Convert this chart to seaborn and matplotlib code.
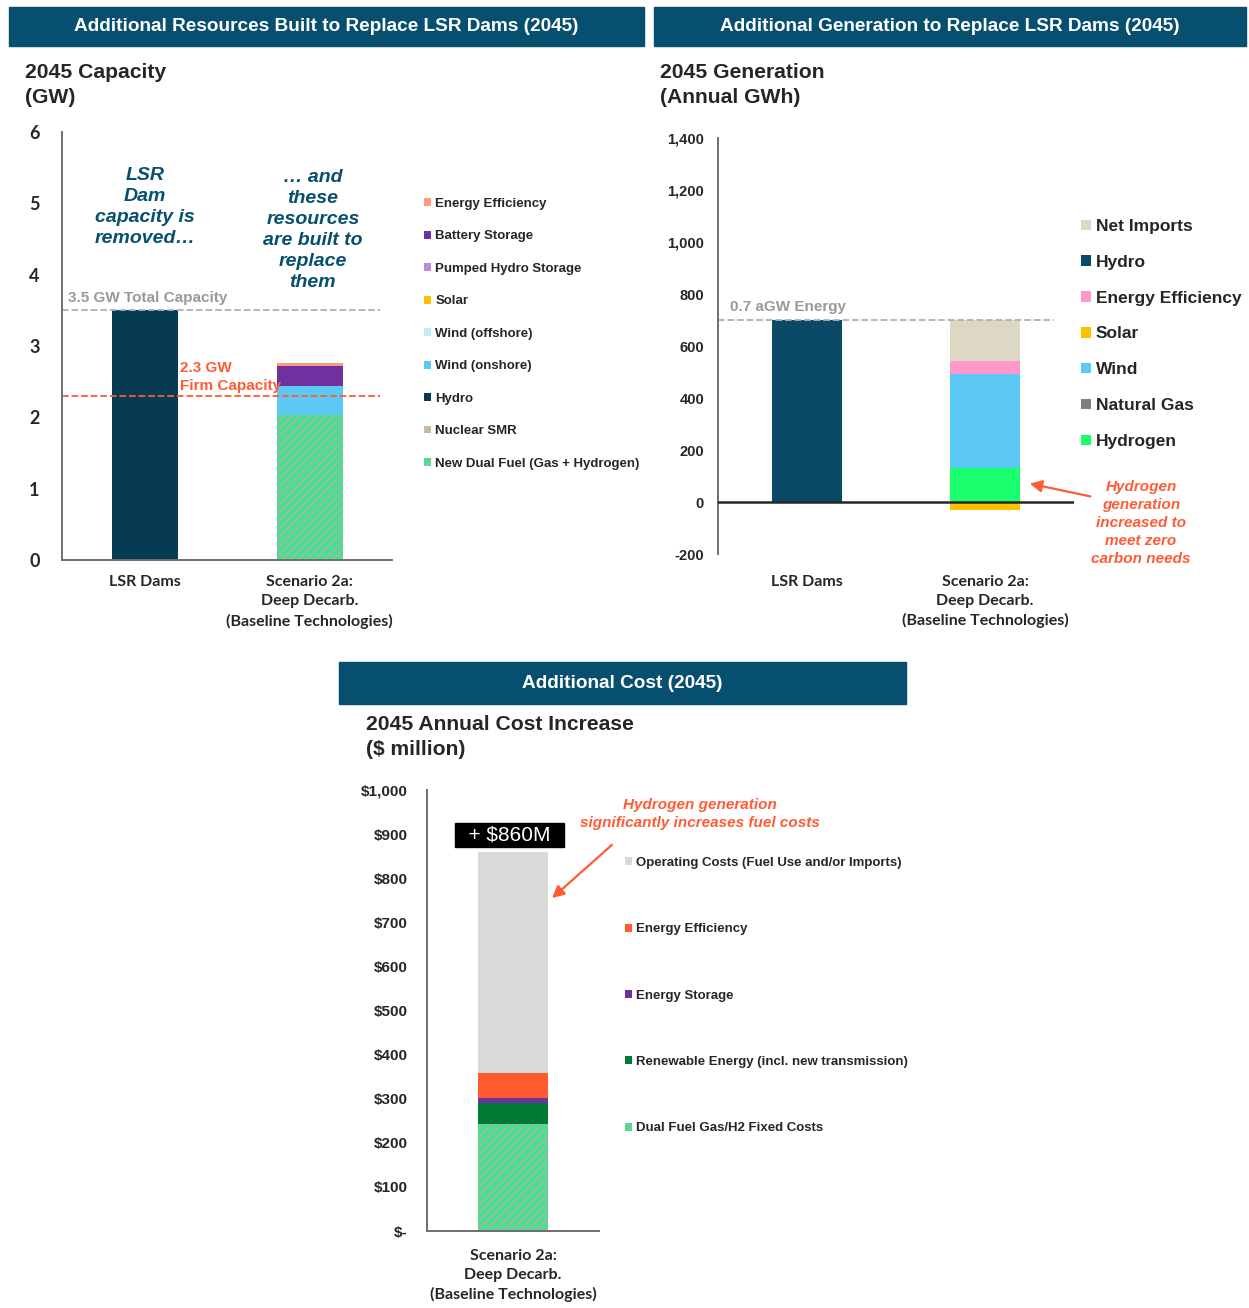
import matplotlib
matplotlib.use('Agg')
import matplotlib.pyplot as plt
from matplotlib.patches import Rectangle
import seaborn as sns
import numpy as np

W, H = 1249, 1308

# ---- capacity (GW) ----
cap_cats = ['LSR Dams', 'Scenario 2a']
cap_layers = ['New Dual Fuel (Gas + Hydrogen)', 'Nuclear SMR', 'Hydro', 'Wind (onshore)',
              'Wind (offshore)', 'Solar', 'Pumped Hydro Storage', 'Battery Storage', 'Energy Efficiency']
cap_values = [[0, 2.03], [0, 0], [3.5, 0], [0, 0.41], [0, 0], [0, 0], [0, 0], [0, 0.28], [0, 0.04]]
cap_colors = ['#3EE58C', '#C4BD97', '#073B53', '#5BC8F5', '#BDEBFB', '#FFC000', '#C08BDB', '#7030A0', '#FF9B7A']
cap_total = 3.5
cap_firm = 2.3

# ---- generation (annual GWh) ----
gen_cats = ['LSR Dams', 'Scenario 2a']
gen_layers = ['Hydrogen', 'Natural Gas', 'Wind', 'Solar', 'Energy Efficiency', 'Hydro', 'Net Imports']
gen_values = [[0, 131], [0, 0], [0, 361], [0, -30], [0, 50], [700, 0], [0, 158]]
gen_colors = ['#1AFF6E', '#7F7F7F', '#5BC8F5', '#FFC000', '#FF99CC', '#0B4A66', '#DDD8C4']
gen_energy = 700

# ---- cost ($ million) ----
cost_cats = ['Scenario 2a']
cost_layers = ['Dual Fuel Gas/H2 Fixed Costs', 'Renewable Energy (incl. new transmission)',
               'Energy Storage', 'Energy Efficiency', 'Operating Costs (Fuel Use and/or Imports)']
cost_values = [[243], [47], [12], [56], [502]]
cost_colors = ['#3EE58C', '#037A33', '#7030A0', '#FF5B2E', '#D9D9D9']

scen_label = 'Scenario 2a:\nDeep Decarb.\n(Baseline Technologies)'
teal = '#074F6F'
red = '#FF5B35'

sns.set_theme(style='white')
plt.rcParams['font.family'] = ['Liberation Sans', 'DejaVu Sans']
plt.rcParams['hatch.linewidth'] = 1.6

fig = plt.figure(figsize=(W / 100, H / 100), dpi=100)


def rect(x0, y0, x1, y1):
    return [x0 / W, 1 - y1 / H, (x1 - x0) / W, (y1 - y0) / H]


def ftext(x, y, s, **kw):
    fig.text(x / W, 1 - y / H, s, **kw)


def banner(x0, y0, x1, y1, s):
    fig.add_artist(Rectangle((x0 / W, 1 - y1 / H), (x1 - x0) / W, (y1 - y0) / H,
                             transform=fig.transFigure, color=teal, zorder=0))
    ftext((x0 + x1) / 2, (y0 + y1) / 2, s, ha='center', va='center', color='white',
          fontsize=13.7, fontweight='bold')


def stack(ax, cats, layers, values, colors, width):
    pos = np.zeros(len(cats))
    neg = np.zeros(len(cats))
    for name, vals, c in zip(layers, values, colors):
        vals = np.array(vals, dtype=float)
        bottom = np.where(vals >= 0, pos, neg)
        if 'Dual Fuel' in name:
            kw = dict(hatch='////', edgecolor='#9DB8A6', linewidth=0)
        else:
            kw = dict(linewidth=0)
        sns.barplot(x=cats, y=vals, bottom=bottom, color=c, width=width, label=name,
                    saturation=1, errorbar=None, ax=ax, **kw)
        pos = np.where(vals >= 0, pos + vals, pos)
        neg = np.where(vals < 0, neg + vals, neg)


def style_axes(ax, bottom=True):
    sns.despine(ax=ax, top=True, right=True, bottom=not bottom)
    for side in ['left', 'bottom']:
        ax.spines[side].set_color('#6E6E6E')
        ax.spines[side].set_linewidth(1.4)
    ax.tick_params(axis='both', length=0)
    ax.set_xlabel('')
    ax.set_ylabel('')


def xlabels(ax, labels):
    ax.set_xticklabels(labels, family='Lato', fontweight='bold', fontsize=11.5, linespacing=1.45)


def legend(ax, layers, x, y, fs, spacing):
    h, l = ax.get_legend_handles_labels()
    lookup = dict(zip(l, h))
    order = layers[::-1]
    ax.legend([lookup[n] for n in order], order, loc='upper left',
              bbox_to_anchor=(x / W, 1 - y / H), bbox_transform=fig.transFigure,
              frameon=False, borderpad=0, borderaxespad=0, handlelength=0.55,
              handleheight=0.55, handletextpad=0.3, labelspacing=spacing,
              prop={'family': 'Liberation Sans', 'weight': 'bold', 'size': fs})


# ================= panel 1: capacity =================
banner(9, 7, 644, 46, 'Additional Resources Built to Replace LSR Dams (2045)')
ftext(25, 85, '2045 Capacity\n(GW)', fontsize=15.2, fontweight='bold', va='center', linespacing=1.4)

ax1 = fig.add_axes(rect(62, 132, 392, 560))
stack(ax1, cap_cats, cap_layers, cap_values, cap_colors, 0.4)
ax1.set_xlim(-0.5, 1.5)
ax1.set_ylim(0, 6)
ax1.set_yticks(range(0, 7))
ax1.set_yticklabels([str(v) for v in range(0, 7)], family='Lato', fontweight='bold', fontsize=13)
ax1.set_xticks([0, 1])
xlabels(ax1, ['LSR Dams', scen_label])
style_axes(ax1)
ax1.tick_params(axis='y', pad=16)
ax1.tick_params(axis='x', pad=11)
ax1.plot([-0.5, 1.43], [cap_total, cap_total], ls='--', color='#B0B0B0', lw=1.3)
ax1.plot([-0.5, 1.43], [cap_firm, cap_firm], ls='--', color=red, lw=1.3)
ftext(68, 298, '3.5 GW Total Capacity', color='#999999', fontsize=11, fontweight='bold', va='center')
ftext(180, 377, '2.3 GW\nFirm Capacity', color=red, fontsize=11, fontweight='bold', va='center',
      linespacing=1.3)
ftext(145, 207, 'LSR\nDam\ncapacity is\nremoved…', color=teal, fontsize=14, fontweight='bold',
      style='italic', ha='center', va='center', linespacing=1.3)
ftext(313, 230, '… and\nthese\nresources\nare built to\nreplace\nthem', color=teal, fontsize=14,
      fontweight='bold', style='italic', ha='center', va='center', linespacing=1.3)
legend(ax1, cap_layers, 424, 198, 9.5, 1.55)

# ================= panel 2: generation =================
banner(654, 7, 1246, 46, 'Additional Generation to Replace LSR Dams (2045)')
ftext(660, 85, '2045 Generation\n(Annual GWh)', fontsize=15.2, fontweight='bold', va='center',
      linespacing=1.4)

ax2 = fig.add_axes(rect(718, 138, 1074, 554))
stack(ax2, gen_cats, gen_layers, gen_values, gen_colors, 0.39)
ax2.set_xlim(-0.5, 1.5)
ax2.set_ylim(-200, 1400)
gen_ticks = list(range(-200, 1401, 200))
ax2.set_yticks(gen_ticks)
ax2.set_yticklabels([f'{v:,}' for v in gen_ticks], fontweight='bold', fontsize=10.5)
ax2.set_xticks([0, 1])
xlabels(ax2, ['LSR Dams', scen_label])
style_axes(ax2, bottom=False)
ax2.tick_params(axis='y', pad=10)
ax2.tick_params(axis='x', pad=15)
ax2.axhline(0, color='#262626', lw=1.8, zorder=5)
ax2.plot([-0.5, 1.39], [gen_energy, gen_energy], ls='--', color='#B0B0B0', lw=1.3)
ftext(730, 307, '0.7 aGW Energy', color='#999999', fontsize=11, fontweight='bold', va='center')
legend(ax2, gen_layers, 1081, 219, 12.5, 1.2)
ftext(1141, 523, 'Hydrogen\ngeneration\nincreased to\nmeet zero\ncarbon needs', color=red,
      fontsize=11, fontweight='bold', style='italic', ha='center', va='center', linespacing=1.35)
ax2.annotate('', xy=(1027, H - 483), xycoords='figure pixels', xytext=(1093, H - 497),
             textcoords='figure pixels',
             arrowprops=dict(arrowstyle='-|>', color=red, lw=1.6, mutation_scale=18))

# ================= panel 3: cost =================
banner(339, 662, 906, 704, 'Additional Cost (2045)')
ftext(366, 737, '2045 Annual Cost Increase\n($ million)', fontsize=15.2, fontweight='bold',
      va='center', linespacing=1.4)

ax3 = fig.add_axes(rect(427, 790, 599, 1231))
stack(ax3, cost_cats, cost_layers, cost_values, cost_colors, 0.41)
ax3.set_xlim(-0.5, 0.5)
ax3.set_ylim(0, 1000)
cost_ticks = list(range(0, 1001, 100))
ax3.set_yticks(cost_ticks)
ax3.set_yticklabels(['$-'] + [f'${v:,}' for v in cost_ticks[1:]], fontweight='bold', fontsize=11)
ax3.set_xticks([0])
xlabels(ax3, [scen_label])
style_axes(ax3)
ax3.tick_params(axis='y', pad=14)
ax3.tick_params(axis='x', pad=13)
total = sum(v[0] for v in cost_values)
ax3.text(-0.02, total + 38, f'  + ${total:.0f}M  ', ha='center', va='center', color='white',
         fontsize=15, bbox=dict(boxstyle='square,pad=0.1', fc='black', ec='black'))
legend(ax3, cost_layers, 625, 857, 9.5, 4.12)
ftext(700, 814, 'Hydrogen generation\nsignificantly increases fuel costs', color=red, fontsize=11,
      fontweight='bold', style='italic', ha='center', va='center', linespacing=1.3)
ax3.annotate('', xy=(550, H - 900), xycoords='figure pixels', xytext=(614, H - 843),
             textcoords='figure pixels',
             arrowprops=dict(arrowstyle='-|>', color=red, lw=1.6, mutation_scale=18))

fig.savefig('out.png', dpi=100)
